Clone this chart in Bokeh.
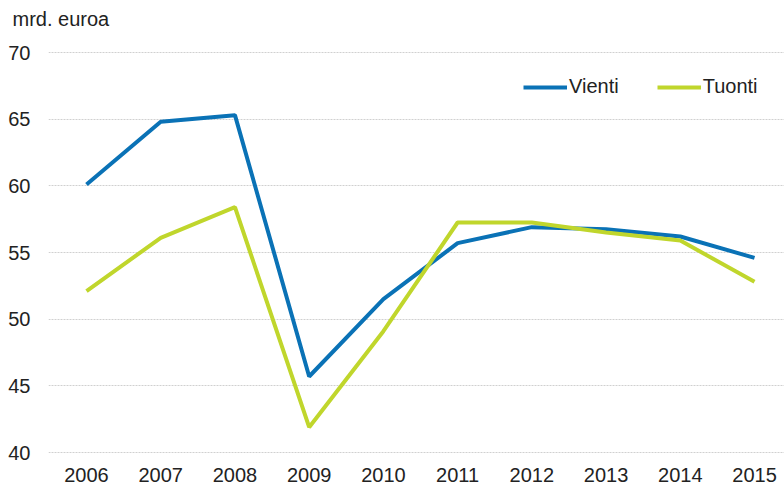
from bokeh.plotting import figure
from bokeh.models import FixedTicker, Range1d, Legend, LegendItem, Title
from bokeh.embed import file_html
from bokeh.resources import INLINE

years = [2006, 2007, 2008, 2009, 2010, 2011, 2012, 2013, 2014, 2015]
vienti = [60.1, 64.8, 65.3, 45.7, 51.5, 55.7, 56.9, 56.75, 56.2, 54.6]
tuonti = [52.1, 56.1, 58.4, 41.9, 49.1, 57.25, 57.25, 56.5, 55.9, 52.8]
y_ticks = [40, 45, 50, 55, 60, 65, 70]
unit_label = "mrd. euroa"

FONT = "Liberation Sans"
FS = "20px"
TXT = "#222222"

p = figure(width=784, height=484, output_backend="svg", toolbar_location=None,
           x_range=Range1d(2005.488, 2015.404), y_range=Range1d(39.925, 70.075),
           min_border_left=48, min_border_right=0, min_border_top=51, min_border_bottom=31)
p.outline_line_color = None
p.background_fill_color = "white"
p.border_fill_color = "white"

t = Title(text=unit_label + "\n\u00a0", text_font=FONT, text_font_size=FS, text_font_style="normal",
          text_color=TXT, align="left", offset=-36, standoff=0)
p.add_layout(t, "above")

r1 = p.line(years, vienti, line_color="#0A72B6", line_width=4)
r2 = p.line(years, tuonti, line_color="#C0D62C", line_width=4)

p.xaxis.ticker = FixedTicker(ticks=years)
p.xaxis.major_label_overrides = {y: str(y) for y in years}
p.yaxis.ticker = FixedTicker(ticks=y_ticks)
for ax in (p.xaxis[0], p.yaxis[0]):
    ax.axis_line_color = None
    ax.major_tick_line_color = None
    ax.minor_tick_line_color = None
    ax.major_label_text_font = FONT
    ax.major_label_text_font_size = FS
    ax.major_label_text_color = TXT
p.xaxis.major_label_standoff = 8
p.yaxis.major_label_standoff = 12

p.xgrid.grid_line_color = None
p.ygrid.grid_line_color = "#d0d0d0"
p.ygrid.grid_line_dash = "2 1"
p.ygrid.grid_line_width = 1

legend = Legend(items=[LegendItem(label="Vienti", renderers=[r1]),
                       LegendItem(label="Tuonti", renderers=[r2])],
                orientation="horizontal", location=(475, 355),
                glyph_width=44, glyph_height=20, label_height=20, label_standoff=2,
                spacing=38, padding=0, margin=0, border_line_color=None,
                background_fill_alpha=0,
                label_text_font=FONT, label_text_font_size=FS, label_text_color=TXT)
p.add_layout(legend, "center")

open("out.html", "w").write(file_html(p, INLINE))
